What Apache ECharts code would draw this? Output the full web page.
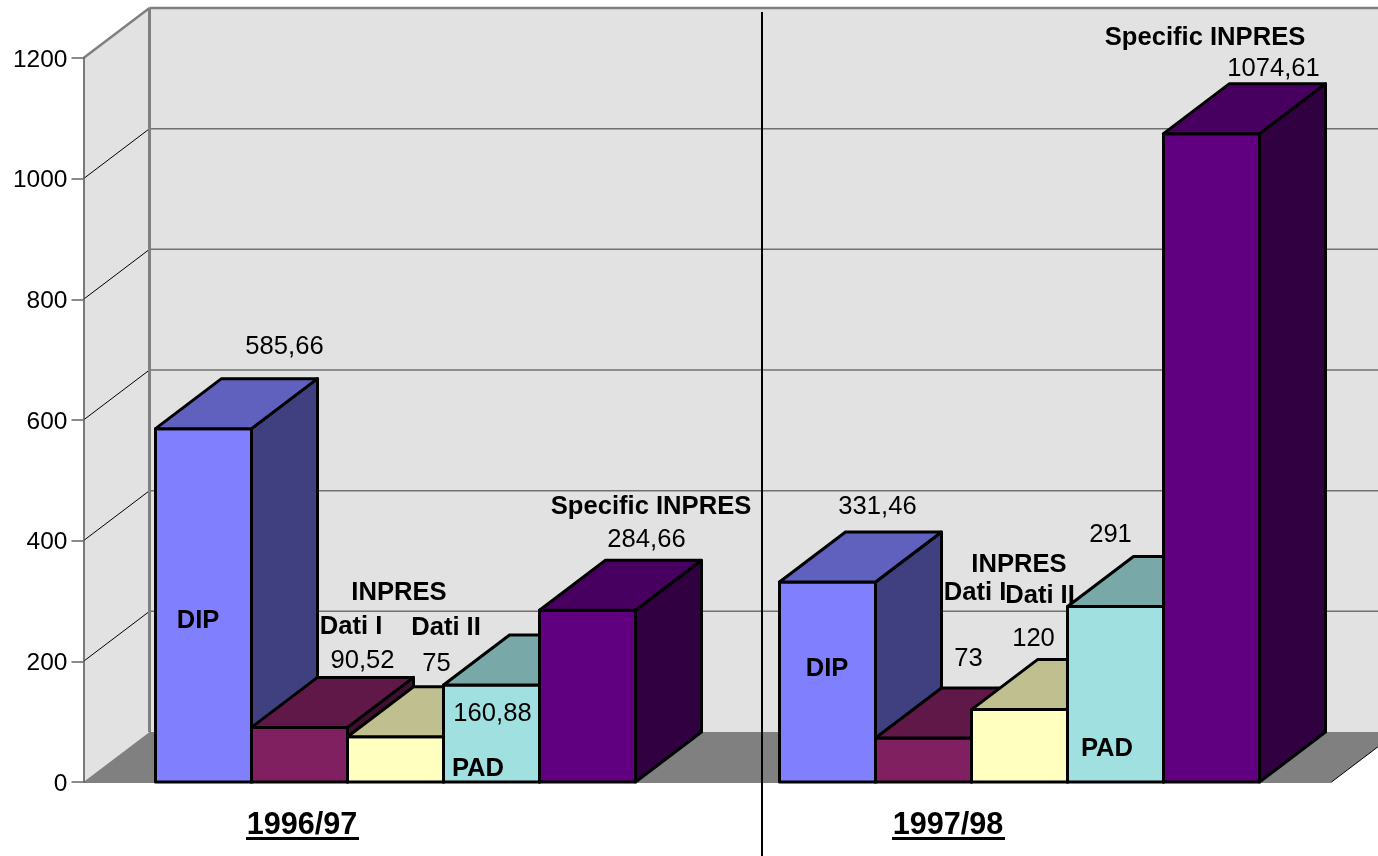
<!DOCTYPE html>
<html>
<head>
<meta charset="utf-8">
<title>Regional transfers 1996/97 and 1997/98</title>
<script src="https://cdn.jsdelivr.net/npm/echarts@6/dist/echarts.min.js"></script>
<style>
  html, body { margin: 0; padding: 0; background: #fff; }
  #chart { width: 1378px; height: 856px; }
</style>
</head>
<body>
<div id="chart"></div>
<script>
// Fiscal years on the category axis
const categories = ['1996/97', '1997/98'];

// Transfer values per fiscal year
const dip = [585.66, 331.46];
const inpresDatiI = [90.52, 73];
const inpresDatiII = [75, 120];
const pad = [160.88, 291];
const specificInpres = [284.66, 1074.61];

const yMax = 1200;
const yStep = 200;

// Pseudo-3D projection of the chart box: depth runs up and to the right
const DEPTH_X = 66;
const DEPTH_Y = -50;
const GAP_SHARE = 0.15; // gap on each side of a group, in units of group width
const FONT = '"Liberation Sans", Arial, sans-serif';
const BAR_EDGE = 3;

// Face colours for each series: front, top, side
const barSeries = [
  { name: 'DIP', values: dip, faces: ['#8080FF', '#6060BF', '#404080'], labelOffset: [[81, -82], [50, -75]] },
  { name: 'INPRES Dati I', values: inpresDatiI, faces: ['#802060', '#601848', '#401030'], labelOffset: [[63, -66], [45, -79]] },
  { name: 'INPRES Dati II', values: inpresDatiII, faces: ['#FFFFC0', '#BFBF90', '#808060'], labelOffset: [[41, -73], [14, -71]] },
  { name: 'PAD', values: pad, faces: ['#A0E0E0', '#78A8A8', '#507070'], labelOffset: [[1, 29], [-5, -71]] },
  { name: 'Specific INPRES', values: specificInpres, faces: ['#600080', '#480060', '#300040'], labelOffset: [[59, -70], [62, -65]] }
];

// Free-standing captions placed on the plot
const captions = [
  ['DIP', 198, 621], ['DIP', 827, 669],
  ['INPRES', 399, 593], ['Dati I', 351, 627], ['Dati II', 446, 628], ['PAD', 478, 769],
  ['Specific INPRES', 651, 507],
  ['INPRES', 1019, 565], ['Dati I', 975, 593], ['Dati II', 1040, 596], ['PAD', 1107, 749],
  ['Specific INPRES', 1205, 38]
];

const yearLabels = [
  { text: categories[0], x: 302, y: 826 },
  { text: categories[1], x: 948, y: 826 }
];

const poly = (points, fill, stroke, lineWidth) => ({
  type: 'polygon',
  shape: { points },
  style: { fill, stroke: stroke || 'none', lineWidth: lineWidth || 0, lineJoin: 'round' },
  silent: true
});

const seg = (x1, y1, x2, y2, stroke, lineWidth) => ({
  type: 'line',
  shape: { x1, y1, x2, y2 },
  style: { stroke, lineWidth },
  silent: true
});

// Side wall, back wall, floor and their gridlines
function renderBox(params, api) {
  const r = params.coordSys;
  const x0 = r.x, x1 = r.x + r.width;
  const yB = r.y + r.height, yT = r.y;
  const dx = DEPTH_X, dy = DEPTH_Y;
  const wall = '#E2E2E2', floor = '#808080', edge = '#808080';
  const children = [
    poly([[x0, yB], [x0, yT], [x0 + dx, yT + dy], [x0 + dx, yB + dy]], wall),
    poly([[x0 + dx, yB + dy], [x0 + dx, yT + dy], [x1 + dx, yT + dy], [x1 + dx, yB + dy]], wall),
    poly([[x0, yB], [x1, yB], [x1 + dx, yB + dy], [x0 + dx, yB + dy]], floor)
  ];
  for (let v = yStep; v < yMax; v += yStep) {
    const y = api.coord([0, v])[1];
    children.push(seg(x0, y, x0 + dx, y + dy, '#000', 1));
    children.push(seg(x0 + dx, y + dy, x1 + dx, y + dy, '#707070', 1.5));
  }
  children.push(seg(x0 + dx, yT + dy, x1 + dx, yT + dy, edge, 2.5));
  children.push(seg(x0, yT, x0 + dx, yT + dy, edge, 2.5));
  children.push(seg(x0 + dx, yT + dy, x0 + dx, yB + dy, edge, 3));
  children.push(seg(x0, yB, x1, yB, edge, 2));
  children.push(seg(x1, yB, x1 + dx, yB + dy, '#000', 1));
  return { type: 'group', children };
}

// One extruded bar with its value label
function renderBar(seriesIdx) {
  const cfg = barSeries[seriesIdx];
  return function (params, api) {
    const band = api.size([1, 0])[0];
    const count = barSeries.length;
    const w = band / (count * (1 + 2 * GAP_SHARE));
    const cx = api.coord([api.value(0), 0])[0];
    const x = cx - (count * w) / 2 + seriesIdx * w;
    const base = api.coord([api.value(0), 0])[1];
    const top = api.coord([api.value(0), api.value(1)])[1];
    const dx = DEPTH_X, dy = DEPTH_Y;
    const off = cfg.labelOffset[params.dataIndex];
    const [front, topFace, side] = cfg.faces;
    return {
      type: 'group',
      children: [
        poly([[x, base], [x, top], [x + w, top], [x + w, base]], front, '#000', BAR_EDGE),
        poly([[x + w, base], [x + w, top], [x + w + dx, top + dy], [x + w + dx, base + dy]], side, '#000', BAR_EDGE),
        poly([[x, top], [x + dx, top + dy], [x + w + dx, top + dy], [x + w, top]], topFace, '#000', BAR_EDGE),
        {
          type: 'text',
          z2: 100,
          silent: true,
          style: {
            text: String(api.value(1)).replace('.', ','),
            x: x + w / 2 + off[0],
            y: top + off[1],
            align: 'center',
            verticalAlign: 'middle',
            font: '25.6px ' + FONT,
            fill: '#000'
          }
        }
      ]
    };
  };
}

const graphic = [];
captions.forEach(([text, x, y]) => {
  graphic.push({
    type: 'text', x, y, z: 50, silent: true,
    style: { text, align: 'center', verticalAlign: 'middle', font: 'bold 25.6px ' + FONT, fill: '#000' }
  });
});
yearLabels.forEach(({ text, x, y }) => {
  graphic.push({
    type: 'text', x, y, z: 50, silent: true,
    style: { text, align: 'center', verticalAlign: 'middle', font: 'bold 30.6px ' + FONT, fill: '#000' }
  });
  graphic.push({
    type: 'rect', z: 50, silent: true,
    shape: { x: x - 56, y: y + 11, width: 113, height: 3 },
    style: { fill: '#000' }
  });
});
// Divider between the two fiscal years
graphic.push({
  type: 'line', z: 50, silent: true,
  shape: { x1: 762, y1: 12, x2: 762, y2: 856 },
  style: { stroke: '#000', lineWidth: 2 }
});

const chart = echarts.init(document.getElementById('chart'), null, { renderer: 'canvas' });
chart.setOption({
  animation: false,
  backgroundColor: '#fff',
  tooltip: { show: false },
  grid: { left: 83.5, right: 46.5, top: 58, bottom: 74, containLabel: false },
  xAxis: {
    type: 'category',
    data: categories,
    axisLine: { show: false },
    axisTick: { show: false },
    axisLabel: { show: false },
    splitLine: { show: false }
  },
  yAxis: {
    type: 'value',
    min: 0,
    max: yMax,
    interval: yStep,
    z: 2,
    splitLine: { show: false },
    axisLine: { show: true, lineStyle: { color: '#555', width: 1.5 } },
    axisTick: { show: true, length: 12, lineStyle: { color: '#666', width: 1.5 } },
    axisLabel: {
      margin: 16,
      formatter: (v) => '{tick|' + v + '}',
      rich: {
        tick: { color: '#000', fontSize: 24.5, fontFamily: FONT, padding: [4, 0, 0, 0] }
      }
    }
  },
  graphic,
  series: [
    {
      type: 'custom',
      name: 'box',
      coordinateSystem: 'cartesian2d',
      z: 1,
      silent: true,
      renderItem: renderBox,
      data: [[0, 0]],
      encode: { x: 0, y: 1 }
    }
  ].concat(barSeries.map((s, i) => ({
    type: 'custom',
    name: s.name,
    coordinateSystem: 'cartesian2d',
    z: 3 + i,
    silent: true,
    renderItem: renderBar(i),
    data: s.values.map((v, c) => [c, v]),
    encode: { x: 0, y: 1 }
  })))
});
</script>
</body>
</html>
